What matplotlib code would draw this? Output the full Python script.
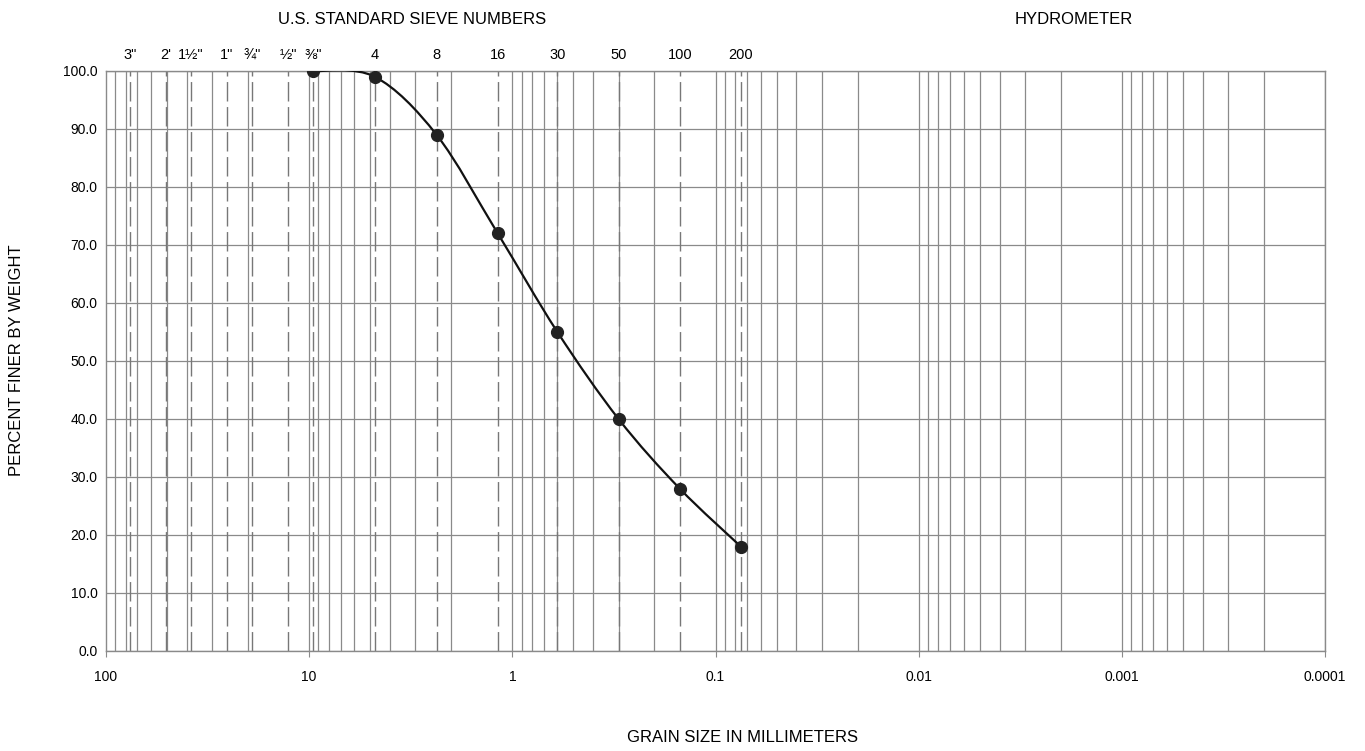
import numpy as np
import matplotlib
matplotlib.use("Agg")
import matplotlib.pyplot as plt
from matplotlib.path import Path
from matplotlib.patches import PathPatch

plt.rcParams['font.family'] = ['Liberation Sans', 'DejaVu Sans']

# Data
sieve_sizes_mm = [9.525, 4.75, 2.36, 1.18, 0.6, 0.3, 0.15, 0.075]
percent_finer = [100.0, 99.0, 89.0, 72.0, 55.0, 40.0, 28.0, 18.0]

sieve_labels = ['3"', "2'", '1½"', '1"', '¾"', '½"', '⅜"', '4', '8', '16', '30', '50', '100', '200']
sieve_label_sizes = [76.2, 50.8, 38.1, 25.4, 19.05, 12.7, 9.525, 4.75, 2.36, 1.18, 0.6, 0.3, 0.15, 0.075]
y_ticks = [0, 10, 20, 30, 40, 50, 60, 70, 80, 90, 100]
x_ticks = [100, 10, 1, 0.1, 0.01, 0.001, 0.0001]
x_ticklabels = ['100', '10', '1', '0.1', '0.01', '0.001', '0.0001']

fig = plt.figure(figsize=(13.65, 7.51), dpi=100)
ax = fig.add_axes([106/1365, 1-651/751, (1325-106)/1365, (651-71)/751])
ax.set_xscale('log')
ax.set_xlim(100, 0.0001)
ax.set_ylim(0, 100)

grid_c = '#8a8a8a'
# horizontal grid
for y in y_ticks:
    ax.axhline(y, color=grid_c, lw=0.9, zorder=1)
# vertical log grid
for dec in range(-4, 2):
    for m in range(1, 10):
        v = m * 10.0**dec
        if 0.0001 <= v <= 100:
            ax.axvline(v, color=grid_c, lw=0.9, zorder=1)
# sieve dashed lines
for s in sieve_label_sizes:
    ax.axvline(s, color='#777777', lw=1.0, ls=(0, (14, 4)), zorder=1)

# smooth curve through points via cubic bezier in log-x space
lx = np.log10(sieve_sizes_mm)
py = np.array(percent_finer)
pts = np.column_stack([lx, py])
verts = [pts[0]]
codes = [Path.MOVETO]
n = len(pts)
for i in range(n - 1):
    p0 = pts[i - 1] if i > 0 else pts[i]
    p1 = pts[i]
    p2 = pts[i + 1]
    p3 = pts[i + 2] if i + 2 < n else pts[i + 1]
    c1 = p1 + (p2 - p0) / 6.0
    c2 = p2 - (p3 - p1) / 6.0
    verts += [c1, c2, p2]
    codes += [Path.CURVE4] * 3
verts = np.array(verts)
verts[:, 0] = 10.0 ** verts[:, 0]
patch = PathPatch(Path(verts, codes), facecolor='none', edgecolor='#111111', lw=1.6, zorder=3)
ax.add_patch(patch)
ax.plot(sieve_sizes_mm, percent_finer, 'o', color='#222222', ms=8.5, zorder=4)

ax.set_yticks(y_ticks)
ax.set_yticklabels([f'{v:.1f}' for v in y_ticks], fontsize=10)
ax.set_xticks(x_ticks)
ax.set_xticklabels(x_ticklabels, fontsize=10)
ax.xaxis.set_minor_locator(matplotlib.ticker.NullLocator())
ax.tick_params(axis='x', length=4, color=grid_c, pad=10)
ax.tick_params(axis='y', length=0, pad=6)
for sp in ax.spines.values():
    sp.set_color(grid_c)
    sp.set_linewidth(1.0)

# sieve labels on top
for lab, s in zip(sieve_labels, sieve_label_sizes):
    ax.text(s, 101.5, lab, ha='center', va='bottom', fontsize=10.5, transform=ax.transData)

fig.text(412/1365, 1-19/751, 'U.S. STANDARD SIEVE NUMBERS', ha='center', va='center', fontsize=12)
fig.text(1074/1365, 1-19/751, 'HYDROMETER', ha='center', va='center', fontsize=12)
fig.text(743/1365, 1-738/751, 'GRAIN SIZE IN MILLIMETERS', ha='center', va='center', fontsize=12)
fig.text(17/1365, 1-360/751, 'PERCENT FINER BY WEIGHT', ha='center', va='center', rotation=90, fontsize=12)

fig.savefig('out.png', dpi=100)
